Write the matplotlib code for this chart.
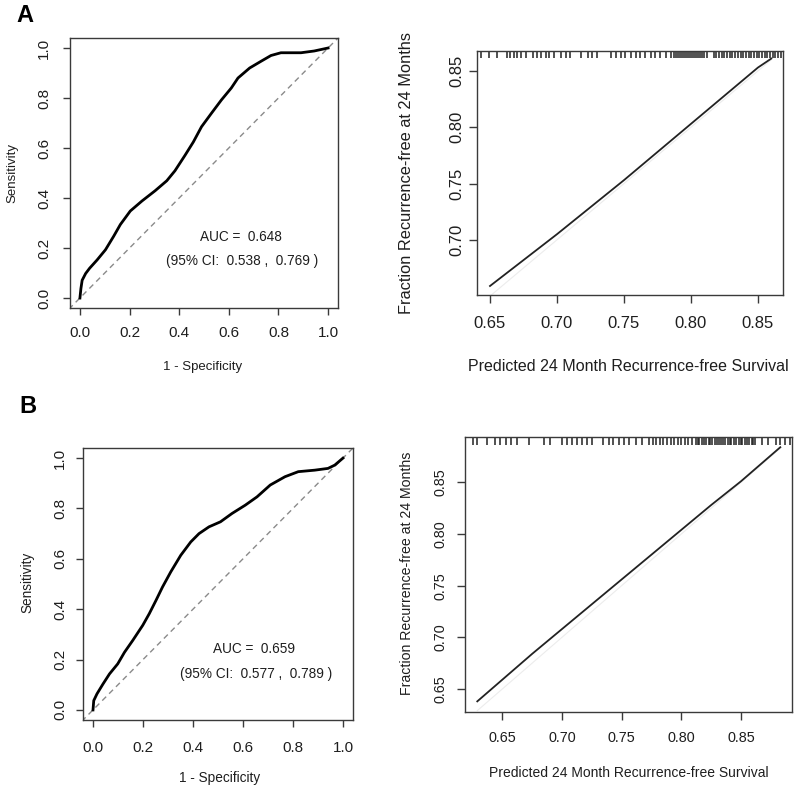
import matplotlib
matplotlib.use("Agg")
import matplotlib.pyplot as plt

plt.rcParams['font.family'] = ['Liberation Sans', 'DejaVu Sans']

# ---------------- data ----------------
rocA_fpr = [0.0, 0.004, 0.009, 0.023, 0.039, 0.069, 0.103, 0.136, 0.163, 0.203, 0.25, 0.303,
            0.35, 0.383, 0.423, 0.457, 0.49, 0.53, 0.57, 0.61, 0.637, 0.684, 0.73, 0.77,
            0.81, 0.891, 0.944, 1.0]
rocA_tpr = [0.0, 0.038, 0.071, 0.098, 0.119, 0.152, 0.193, 0.247, 0.294, 0.348, 0.388, 0.429,
            0.469, 0.509, 0.570, 0.624, 0.685, 0.739, 0.792, 0.840, 0.880, 0.920, 0.947, 0.970,
            0.981, 0.981, 0.988, 1.0]
rocB_fpr = [0.0, 0.003, 0.016, 0.04, 0.066, 0.099, 0.126, 0.159, 0.199, 0.225, 0.252, 0.278,
            0.311, 0.351, 0.391, 0.424, 0.464, 0.51, 0.556, 0.609, 0.656, 0.709, 0.768, 0.821,
            0.887, 0.94, 0.967, 1.0]
rocB_tpr = [0.0, 0.037, 0.064, 0.103, 0.143, 0.183, 0.229, 0.276, 0.336, 0.382, 0.435, 0.488,
            0.548, 0.614, 0.667, 0.700, 0.727, 0.747, 0.780, 0.813, 0.846, 0.893, 0.926, 0.946,
            0.952, 0.959, 0.972, 1.0]

aucA_text = ["AUC =  0.648", "(95% CI:  0.538 ,  0.769 )"]
aucB_text = ["AUC =  0.659", "(95% CI:  0.577 ,  0.789 )"]

calA_pred = [0.650, 0.675, 0.700, 0.725, 0.750, 0.775, 0.800, 0.825, 0.850, 0.860]
calA_obs = [0.659, 0.682, 0.705, 0.729, 0.753, 0.778, 0.803, 0.828, 0.853, 0.861]
calB_pred = [0.629, 0.650, 0.675, 0.700, 0.725, 0.750, 0.775, 0.800, 0.825, 0.850, 0.883]
calB_obs = [0.638, 0.659, 0.684, 0.708, 0.732, 0.756, 0.780, 0.804, 0.828, 0.851, 0.884]

rugA = [0.643, 0.649, 0.655, 0.663, 0.665, 0.668, 0.670, 0.673, 0.677, 0.682, 0.685, 0.688,
        0.692, 0.694, 0.698, 0.703, 0.707, 0.710, 0.718, 0.723, 0.726, 0.730, 0.740, 0.744,
        0.748, 0.751, 0.755, 0.759, 0.762, 0.766, 0.770, 0.773, 0.777, 0.781, 0.785, 0.787,
        0.789, 0.790, 0.792, 0.793, 0.795, 0.796, 0.798, 0.799, 0.801, 0.802, 0.804, 0.805,
        0.807, 0.808, 0.810, 0.812, 0.817, 0.819, 0.821, 0.823, 0.825, 0.827, 0.829, 0.831,
        0.833, 0.835, 0.837, 0.839, 0.841, 0.843, 0.845, 0.847, 0.849, 0.851, 0.853, 0.855,
        0.857, 0.859, 0.861, 0.863, 0.865, 0.867]
rugB = [0.625, 0.629, 0.637, 0.644, 0.648, 0.653, 0.657, 0.662, 0.672, 0.685, 0.690, 0.700,
        0.704, 0.708, 0.713, 0.717, 0.721, 0.725, 0.734, 0.739, 0.743, 0.748, 0.752, 0.756,
        0.762, 0.767, 0.773, 0.776, 0.779, 0.782, 0.785, 0.788, 0.791, 0.794, 0.797, 0.800,
        0.803, 0.806, 0.809, 0.812, 0.814, 0.815, 0.817, 0.819, 0.821, 0.823, 0.824, 0.826,
        0.828, 0.830, 0.832, 0.833, 0.835, 0.837, 0.839, 0.841, 0.842, 0.844, 0.846, 0.848,
        0.850, 0.851, 0.853, 0.855, 0.857, 0.859, 0.860, 0.862, 0.868, 0.873, 0.879, 0.883,
        0.887, 0.891]

roc_ticks = [0.0, 0.2, 0.4, 0.6, 0.8, 1.0]
roc_ticklabels = ["0.0", "0.2", "0.4", "0.6", "0.8", "1.0"]
calA_xticks = [0.65, 0.70, 0.75, 0.80, 0.85]
calA_yticks = [0.70, 0.75, 0.80, 0.85]
calB_ticks = [0.65, 0.70, 0.75, 0.80, 0.85]

# ---------------- figure ----------------
W, H = 800, 792
fig = plt.figure(figsize=(W / 100, H / 100), dpi=100)
TXT = '#1e1e1e'
SP = '#3a3a3a'


def box_axes(x0, x1, y0, y1):
    return fig.add_axes([x0 / W, 1 - y1 / H, (x1 - x0) / W, (y1 - y0) / H])


def style(ax, fs, tl, xpad, ypad):
    for s in ax.spines.values():
        s.set_color(SP)
        s.set_linewidth(1.0)
    ax.tick_params(axis='both', direction='out', length=tl, width=1.0, color=SP,
                   labelsize=fs, labelcolor=TXT)
    ax.tick_params(axis='x', pad=xpad)
    ax.tick_params(axis='y', pad=ypad, labelrotation=90)
    for lab in ax.get_yticklabels():
        lab.set_va('center')


def labels(ax, xl, yl, fs_x, fs_y, xc, yc):
    ax.set_xlabel(xl, fontsize=fs_x, color=TXT, va='center')
    ax.set_ylabel(yl, fontsize=fs_y, color=TXT, va='center')
    ax.xaxis.set_label_coords(*xc)
    ax.yaxis.set_label_coords(*yc)


def roc_panel(ax, fpr, tpr, txt, tx, ty, fs_tick, fs_lab, xpad, ypad, xc, yc):
    ax.set_xlim(-0.04, 1.04)
    ax.set_ylim(-0.04, 1.04)
    ax.plot([-0.1, 1.1], [-0.1, 1.1], color='#8a8a8a', lw=1.0, ls=(0, (4, 3)))
    ax.plot(fpr, tpr, color='black', lw=2.0, solid_joinstyle='round')
    ax.set_xticks(roc_ticks)
    ax.set_xticklabels(roc_ticklabels)
    ax.set_yticks(roc_ticks)
    ax.set_yticklabels(roc_ticklabels)
    style(ax, fs_tick, 5, xpad, ypad)
    ax.text(tx[0], ty[0], txt[0], ha='center', va='center', fontsize=9.8, color=TXT)
    ax.text(tx[1], ty[1], txt[1], ha='center', va='center', fontsize=9.8, color=TXT)
    labels(ax, "1 - Specificity", "Sensitivity", fs_lab, fs_lab, xc, yc)


def cal_panel(ax, pred, obs, rug, xlim, ylim, xticks, yticks, fs_tick, fs_lab, xpad, ypad, xc, yc):
    ax.set_xlim(*xlim)
    ax.set_ylim(*ylim)
    ax.plot([pred[0], pred[-1]], [pred[0], pred[-1]], color='#ececec', lw=0.8)
    ax.plot(pred, obs, color='#222222', lw=1.3)
    ax.vlines(rug, 0.972, 1.0, transform=ax.get_xaxis_transform(), color='#222222', lw=1.1)
    ax.set_xticks(xticks)
    ax.set_xticklabels(["%.2f" % v for v in xticks])
    ax.set_yticks(yticks)
    ax.set_yticklabels(["%.2f" % v for v in yticks])
    style(ax, fs_tick, 6, xpad, ypad)
    labels(ax, "Predicted 24 Month Recurrence-free Survival",
           "Fraction Recurrence-free at 24 Months", fs_lab[0], fs_lab[1], xc, yc)


# Panel A ROC
axA = box_axes(70, 338, 38, 308)
roc_panel(axA, rocA_fpr, rocA_tpr, aucA_text, (0.648, 0.654), (0.244, 0.148),
          11, 9.5, 8, 8.5, (0.496, -0.2185), (-0.216, 0.5))

# Panel A calibration
axAc = box_axes(477, 783, 51, 295)
cal_panel(axAc, calA_pred, calA_obs, rugA, (0.6403, 0.8687), (0.651, 0.8677),
          calA_xticks, calA_yticks, 12, (11.5, 11.8), 9, 3, (0.493, -0.295), (-0.229, 0.5))

# Panel B ROC
axB = box_axes(83, 353, 448, 720)
roc_panel(axB, rocB_fpr, rocB_tpr, aucB_text, (0.645, 0.652), (0.243, 0.143),
          11, 9.8, 10, 6.5, (0.504, -0.213), (-0.207, 0.507))

# Panel B calibration
axBc = box_axes(465, 792, 437, 712)
cal_panel(axBc, calB_pred, calB_obs, rugB, (0.6187, 0.8928), (0.6277, 0.8939),
          calB_ticks, calB_ticks, 10.4, (10, 10.2), 7.5, 6.5, (0.50, -0.222), (-0.177, 0.505))

fig.text(25 / W, 1 - 15 / H, "A", fontsize=17, fontweight='bold', ha='center', va='center', color='black')
fig.text(28 / W, 1 - 407 / H, "B", fontsize=17, fontweight='bold', ha='center', va='center', color='black')

fig.savefig("out.png", dpi=100)
